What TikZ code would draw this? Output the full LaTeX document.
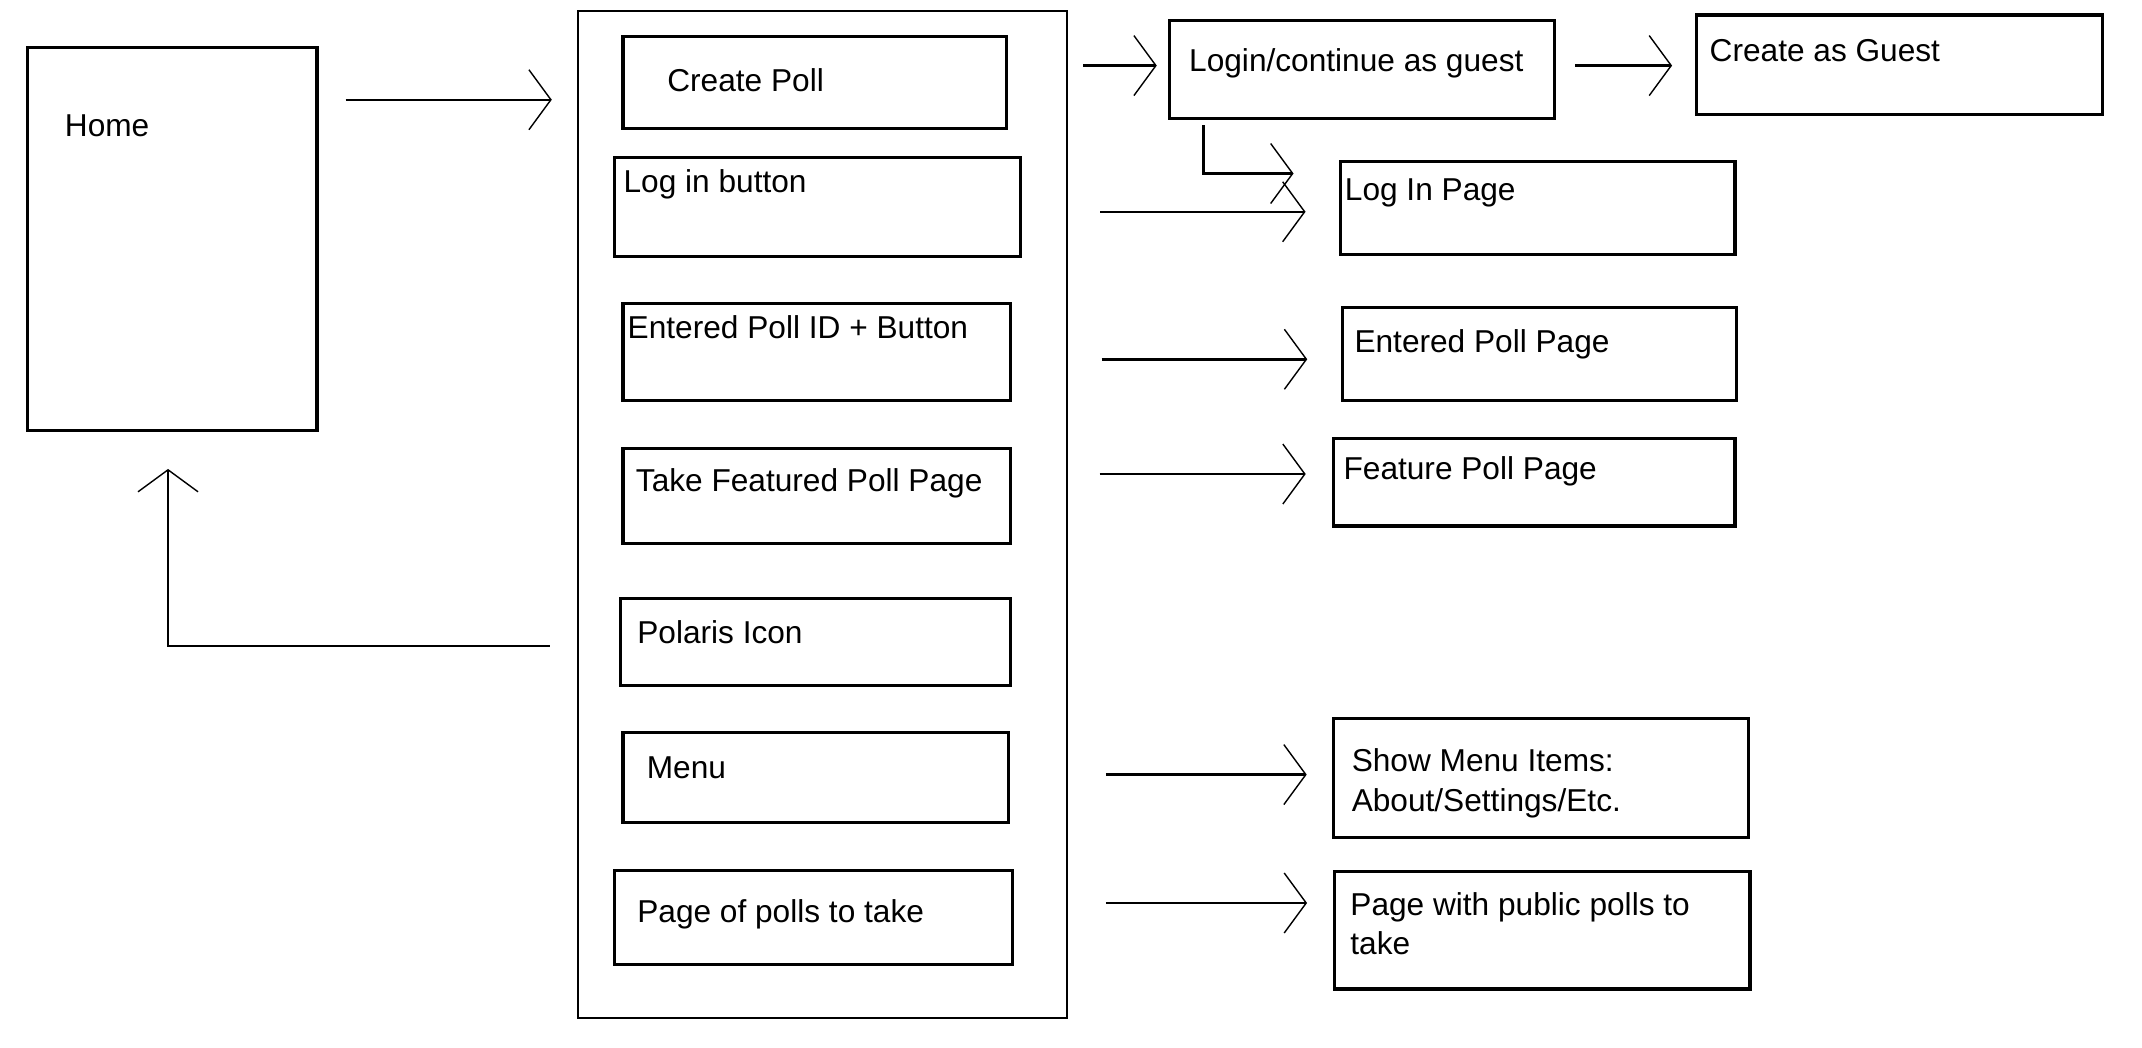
\documentclass[tikz,border=0pt]{standalone}
\usepackage{fontspec}
\setmainfont{Liberation Sans}
\usetikzlibrary{arrows.meta,fit}

\begin{document}
\begin{tikzpicture}[x=0.01366cm, y=-0.01366cm,
    box/.style={draw, line width=0.9pt, inner sep=0pt},
    txt/.style={anchor=base west, inner sep=0pt, align=left, font=\fontsize{9}{11.3}\selectfont},
    flow/.style={line width=0.7pt, -{Straight Barb[length=0.22cm, width=0.6cm, line width=0.4pt]}}]

    \useasboundingbox (0,0) rectangle (1568,767);

    % Home page on the left
    \node[box, fit={(20,35) (232,315)}] (home) {};
    \node[txt] (hometxt) at (47,100) {Home};

    % Big frame holding the elements of the home page
    \node[box, line width=0.6pt, fit={(423,8) (781,745)}] (app) {};

    \node[box, fit={(456,27) (737,94)}] (cp) {};
    \node[txt] (cptxt) at (488,67) {Create Poll};
    \node[box, fit={(450,115) (747,188)}] (loginbtn) {};
    \node[txt] (loginbtntxt) at (456,141) {Log in button};
    \node[box, fit={(456,222) (740,293)}] (pollid) {};
    \node[txt] (pollidtxt) at (459,248) {Entered Poll ID + Button};
    \node[box, fit={(456,328) (740,398)}] (featured) {};
    \node[txt] (featuredtxt) at (465,360) {Take Featured Poll Page};
    \node[box, fit={(454,438) (740,502)}] (polaris) {};
    \node[txt] (polaristxt) at (466,471) {Polaris Icon};
    \node[box, fit={(456,536) (738,602)}] (menu) {};
    \node[txt] (menutxt) at (473,570) {Menu};
    \node[box, fit={(450,637) (741,706)}] (polls) {};
    \node[txt] (pollstxt) at (466,675) {Page of polls to take};

    % Pages reached from the elements
    \node[box, fit={(856,15) (1138,87)}] (login) {};
    \node[txt] (logintxt) at (870,52) {Login/continue as guest};
    \node[box, fit={(1242,11) (1539,84)}] (guest) {};
    \node[txt] (guesttxt) at (1251,45) {Create as Guest};
    \node[box, fit={(981,118) (1270,186)}] (loginpage) {};
    \node[txt] (loginpagetxt) at (984,147) {Log In Page};
    \node[box, fit={(983,225) (1271,293)}] (pollpage) {};
    \node[txt] (pollpagetxt) at (991,258) {Entered Poll Page};
    \node[box, fit={(976,321) (1270,385)}] (featpage) {};
    \node[txt] (featpagetxt) at (983,351) {Feature Poll Page};
    \node[box, fit={(976,526) (1280,613)}] (menupage) {};
    \node[txt] (menupagetxt) at (989,594) {Show Menu Items:\\About/Settings/Etc.};
    \node[box, fit={(977,638) (1281,724)}] (publicpage) {};
    \node[txt] (publicpagetxt) at (988,699) {Page with public polls to\\take};

    % Arrows between the pages
    \draw[flow, shorten <=0.27cm, shorten >=0.25cm] (home.east |- 0,73) -- (app.west |- 0,73);
    \draw[flow, shorten <=0.75cm, shorten >=0.11cm] (cp.east |- 0,48) -- (login.west |- 0,48);
    \draw[flow, shorten <=0.19cm, shorten >=0.23cm] (login.east |- 0,48) -- (guest.west |- 0,48);
    \draw[flow, shorten <=0.05cm, shorten >=0.45cm] (login.south -| 881,0) |- (loginpage.west |- 0,127);
    \draw[flow, shorten <=0.78cm, shorten >=0.33cm] (loginbtn.east |- 0,155) -- (loginpage.west |- 0,155);
    \draw[flow, shorten <=0.89cm, shorten >=0.34cm] (pollid.east |- 0,263) -- (pollpage.west |- 0,263);
    \draw[flow, shorten <=0.87cm, shorten >=0.26cm] (featured.east |- 0,347) -- (featpage.west |- 0,347);
    \draw[flow, shorten <=0.27cm, shorten >=0.37cm] (app.west |- 0,473) -| (home.south -| 123,0);
    \draw[flow, shorten <=0.96cm, shorten >=0.25cm] (menu.east |- 0,567) -- (menupage.west |- 0,567);
    \draw[flow, shorten <=0.92cm, shorten >=0.26cm] (polls.east |- 0,661) -- (publicpage.west |- 0,661);

\end{tikzpicture}
\end{document}
